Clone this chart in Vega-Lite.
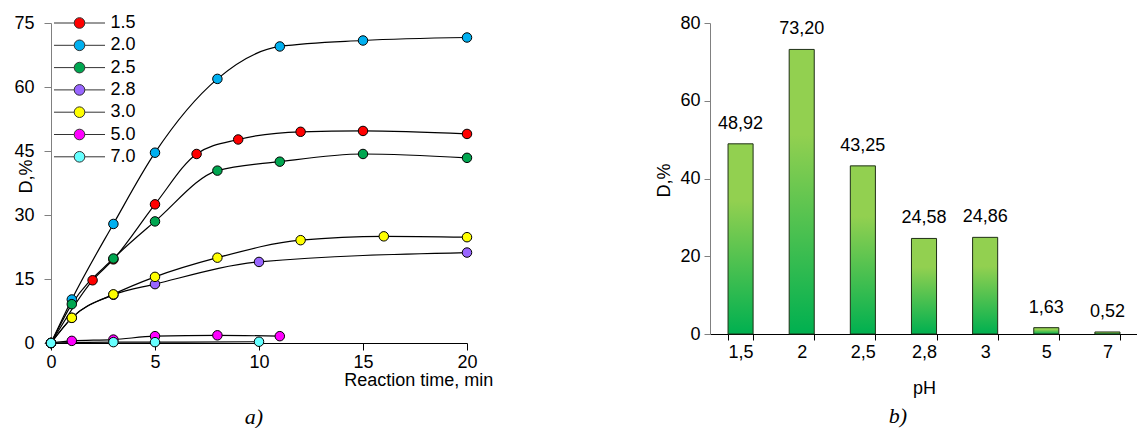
{
  "$schema": "https://vega.github.io/schema/vega-lite/v6.json",
  "padding": {"left": 13, "top": 12, "right": 0, "bottom": 0},
  "bounds": "flush",
  "spacing": 243,
  "config": {
    "view": {"stroke": null},
    "font": "Liberation Sans",
    "locale": {"number": {"decimal": ",", "thousands": " ", "grouping": [3], "currency": ["", ""]}},
    "axis": {"labelFont": "Liberation Sans", "labelFontSize": 18, "labelColor": "#000", "titleFont": "Liberation Sans", "titleFontSize": 18, "titleFontWeight": "normal", "titleColor": "#000", "grid": false}
  },
  "datasets": {
    "kinetics": [
      {"pH": "1.5", "t": 0, "D": 0}, {"pH": "1.5", "t": 2, "D": 14.7}, {"pH": "1.5", "t": 3, "D": 19.6}, {"pH": "1.5", "t": 5, "D": 32.5}, {"pH": "1.5", "t": 7, "D": 44.3}, {"pH": "1.5", "t": 9, "D": 47.7}, {"pH": "1.5", "t": 12, "D": 49.5}, {"pH": "1.5", "t": 15, "D": 49.7}, {"pH": "1.5", "t": 20, "D": 49.0},
      {"pH": "2.0", "t": 0, "D": 0}, {"pH": "2.0", "t": 1, "D": 10.2}, {"pH": "2.0", "t": 3, "D": 27.9}, {"pH": "2.0", "t": 5, "D": 44.6}, {"pH": "2.0", "t": 8, "D": 61.9}, {"pH": "2.0", "t": 11, "D": 69.5}, {"pH": "2.0", "t": 15, "D": 70.9}, {"pH": "2.0", "t": 20, "D": 71.6},
      {"pH": "2.5", "t": 0, "D": 0}, {"pH": "2.5", "t": 1, "D": 9.1}, {"pH": "2.5", "t": 3, "D": 19.8}, {"pH": "2.5", "t": 5, "D": 28.5}, {"pH": "2.5", "t": 8, "D": 40.4}, {"pH": "2.5", "t": 11, "D": 42.5}, {"pH": "2.5", "t": 15, "D": 44.3}, {"pH": "2.5", "t": 20, "D": 43.4},
      {"pH": "2.8", "t": 0, "D": 0}, {"pH": "2.8", "t": 1, "D": 5.9}, {"pH": "2.8", "t": 3, "D": 11.3}, {"pH": "2.8", "t": 5, "D": 13.8}, {"pH": "2.8", "t": 10, "D": 19.0}, {"pH": "2.8", "t": 20, "D": 21.2},
      {"pH": "3.0", "t": 0, "D": 0}, {"pH": "3.0", "t": 1, "D": 5.9}, {"pH": "3.0", "t": 3, "D": 11.4}, {"pH": "3.0", "t": 5, "D": 15.5}, {"pH": "3.0", "t": 8, "D": 20.0}, {"pH": "3.0", "t": 12, "D": 24.1}, {"pH": "3.0", "t": 16, "D": 25.0}, {"pH": "3.0", "t": 20, "D": 24.8},
      {"pH": "5.0", "t": 0, "D": 0}, {"pH": "5.0", "t": 1, "D": 0.5}, {"pH": "5.0", "t": 3, "D": 0.8}, {"pH": "5.0", "t": 5, "D": 1.6}, {"pH": "5.0", "t": 8, "D": 1.8}, {"pH": "5.0", "t": 11, "D": 1.6},
      {"pH": "7.0", "t": 0, "D": 0}, {"pH": "7.0", "t": 3, "D": 0.2}, {"pH": "7.0", "t": 5, "D": 0.2}, {"pH": "7.0", "t": 10, "D": 0.3}
    ],
    "ph": [
      {"pH": "1,5", "D": 48.92}, {"pH": "2", "D": 73.20}, {"pH": "2,5", "D": 43.25}, {"pH": "2,8", "D": 24.58}, {"pH": "3", "D": 24.86}, {"pH": "5", "D": 1.63}, {"pH": "7", "D": 0.52}
    ]
  },
  "hconcat": [
    {
      "width": 416,
      "height": 320,
      "data": {"name": "kinetics"},
      "title": {"text": "a)", "orient": "bottom", "anchor": "middle", "frame": "group", "font": "Liberation Serif", "fontStyle": "italic", "fontWeight": "normal", "fontSize": 22, "dx": -5, "offset": 17, "color": "#000"},
      "encoding": {
        "x": {"field": "t", "type": "quantitative", "scale": {"domain": [0, 20], "nice": false},
          "axis": {"values": [0, 5, 10, 15, 20], "format": "d", "title": "Reaction time, min", "titleX": 441.7, "titleY": 42.5, "titleAlign": "right", "titleBaseline": "alphabetic", "domainColor": "#000", "tickColor": "#000", "tickSize": 7, "labelPadding": 3, "labelFlush": false, "labelOverlap": false}},
        "y": {"field": "D", "type": "quantitative", "scale": {"domain": [0, 75], "nice": false},
          "axis": {"values": [0, 15, 30, 45, 60, 75], "format": "d", "title": "D,%", "titleX": -25, "titleY": 153, "titleAlign": "center", "titleBaseline": "middle", "domainColor": "#808080", "tickColor": "#808080", "tickSize": 7, "labelPadding": 10}}
      },
      "layer": [
        {"mark": {"type": "line", "interpolate": "monotone", "color": "#000", "strokeWidth": 1.2},
          "encoding": {"detail": {"field": "pH", "type": "nominal"}}},
        {"mark": {"type": "point", "filled": true, "size": 90, "stroke": "#000", "strokeWidth": 1, "opacity": 1, "fillOpacity": 1},
          "encoding": {
            "fill": {"field": "pH", "type": "nominal",
              "scale": {"domain": ["1.5", "2.0", "2.5", "2.8", "3.0", "5.0", "7.0"], "range": ["#FF0000", "#00B0F0", "#00A650", "#9966FF", "#FFFF00", "#FF00FF", "#66FFFF"]},
              "legend": {"orient": "none", "legendX": 17.5, "legendY": -11, "title": null,
                "symbolType": "M-2.49,0H-0.52M0.52,0H2.49M-0.52,0A0.52,0.52 0 1,0 0.52,0A0.52,0.52 0 1,0 -0.52,0Z",
                "symbolSize": 420, "symbolStrokeColor": "#333", "symbolStrokeWidth": 1, "symbolOpacity": 1,
                "labelFont": "Liberation Sans", "labelFontSize": 18, "labelColor": "#000", "labelOffset": 20, "rowPadding": 2.3, "padding": 0}}
          }}
      ]
    },
    {
      "width": 428,
      "height": 311,
      "data": {"name": "ph"},
      "title": {"text": "b)", "orient": "bottom", "anchor": "middle", "frame": "group", "font": "Liberation Serif", "fontStyle": "italic", "fontWeight": "normal", "fontSize": 22, "dx": -26, "offset": 9, "color": "#000"},
      "encoding": {
        "x": {"field": "pH", "type": "nominal", "sort": null, "scale": {"paddingInner": 0.59, "paddingOuter": 0.295},
          "axis": {"title": "pH", "labelAngle": 0, "tickBand": "extent", "domainColor": "#000", "tickColor": "#000", "tickSize": 6, "labelPadding": 3, "titleY": 54, "titleBaseline": "middle"}},
        "y": {"field": "D", "type": "quantitative", "scale": {"domain": [0, 80], "nice": false},
          "axis": {"values": [0, 20, 40, 60, 80], "title": "D,%", "titleX": -46, "titleY": 157, "titleAlign": "center", "titleBaseline": "middle", "domainColor": "#808080", "tickColor": "#808080", "tickSize": 6, "labelPadding": 4}}
      },
      "layer": [
        {"mark": {"type": "bar", "fill": {"gradient": "linear", "x1": 0, "y1": 0, "x2": 0, "y2": 1, "stops": [{"offset": 0, "color": "#92D050"}, {"offset": 0.3, "color": "#92D050"}, {"offset": 1, "color": "#00B050"}]}, "stroke": "#1F2F16", "strokeWidth": 1}},
        {"mark": {"type": "text", "baseline": "alphabetic", "dy": -15, "fontSize": 18, "font": "Liberation Sans", "color": "#000"},
          "encoding": {"text": {"field": "D", "type": "quantitative", "format": ".2f"}}}
      ]
    }
  ]
}
